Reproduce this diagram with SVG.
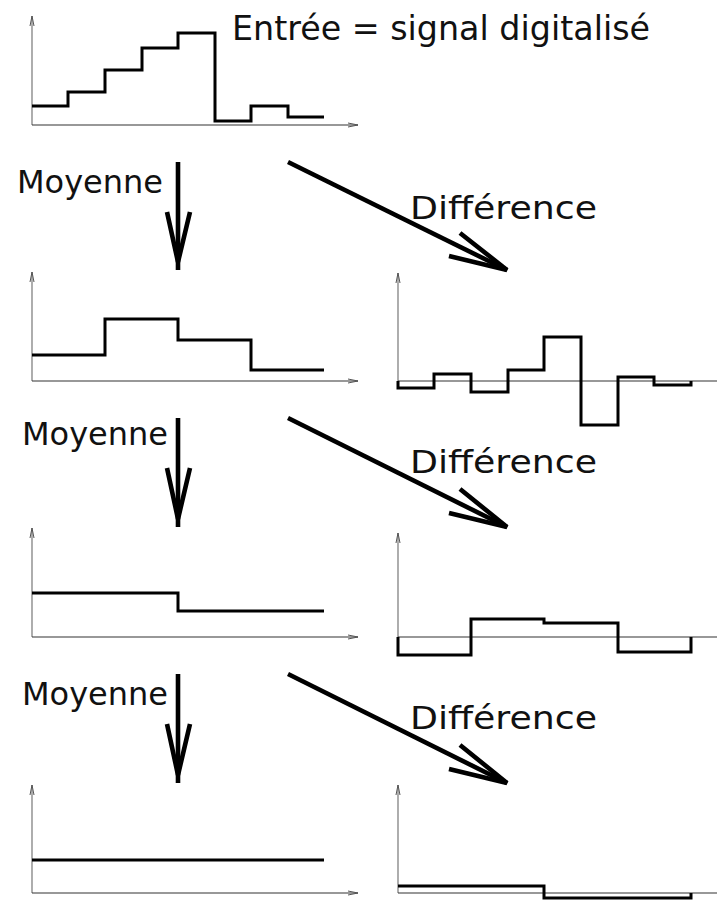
<svg xmlns="http://www.w3.org/2000/svg" width="717" height="900" viewBox="0 0 717 900">
<style>
.yax{stroke:#777;stroke-width:1.2;fill:none}
.xax{stroke:#333;stroke-width:1.2;fill:none}
.ah{stroke:#555;stroke-width:1;fill:none}
.sig{stroke:#000;stroke-width:3;fill:none;stroke-linejoin:miter}
.arr{stroke:#000;stroke-width:4.6;fill:none;stroke-linecap:butt}
.lbl{font-family:"DejaVu Sans","Liberation Sans",sans-serif;fill:#111}
</style>
<rect width="717" height="900" fill="#fff"/>
<g id="plot-input">
<line class="yax" x1="32" y1="125" x2="32" y2="16"/><path class="ah" d="M30,26 L32,16 L34,26"/>
<line class="xax" x1="32" y1="125" x2="358" y2="125"/><path class="ah" d="M348,123 L358,125 L348,127"/>
<path class="sig" d="M32,106 H68 V92 H105 V70 H142 V48 H178 V33 H215 V121 H251 V106 H288 V117 H324"/>
<text class="lbl" x="232" y="40" font-size="33" textLength="418" lengthAdjust="spacingAndGlyphs">Entrée = signal digitalisé</text>
</g>
<g id="plot-avg1">
<line class="yax" x1="32" y1="381" x2="32" y2="272"/><path class="ah" d="M30,282 L32,272 L34,282"/>
<line class="xax" x1="32" y1="381" x2="358" y2="381"/><path class="ah" d="M348,379 L358,381 L348,383"/>
<path class="sig" d="M32,355 H105 V319 H178 V340 H251 V370 H324"/>
</g>
<g id="plot-diff1">
<line class="yax" x1="398" y1="381" x2="398" y2="273"/><path class="ah" d="M396,283 L398,273 L400,283"/>
<line class="xax" x1="398" y1="381" x2="717" y2="381"/>
<path class="sig" d="M398,381 V388 H434 V374 H471 V392 H508 V370 H544 V337 H581 V425 H618 V377 H654 V385 H691 V381"/>
</g>
<g id="plot-avg2">
<line class="yax" x1="32" y1="637" x2="32" y2="528"/><path class="ah" d="M30,538 L32,528 L34,538"/>
<line class="xax" x1="32" y1="637" x2="358" y2="637"/><path class="ah" d="M348,635 L358,637 L348,639"/>
<path class="sig" d="M32,593 H178 V611 H324"/>
</g>
<g id="plot-diff2">
<line class="yax" x1="398" y1="637" x2="398" y2="533"/><path class="ah" d="M396,543 L398,533 L400,543"/>
<line class="xax" x1="398" y1="637" x2="717" y2="637"/>
<path class="sig" d="M398,637 V655 H471 V619 H544 V623 H618 V652 H691 V637"/>
</g>
<g id="plot-avg3">
<line class="yax" x1="32" y1="893" x2="32" y2="785"/><path class="ah" d="M30,795 L32,785 L34,795"/>
<line class="xax" x1="32" y1="893" x2="358" y2="893"/><path class="ah" d="M348,891 L358,893 L348,895"/>
<path class="sig" d="M32,860 H324"/>
</g>
<g id="plot-diff3">
<line class="yax" x1="398" y1="893" x2="398" y2="785"/><path class="ah" d="M396,795 L398,785 L400,795"/>
<line class="xax" x1="398" y1="893" x2="717" y2="893"/>
<path class="sig" d="M398,886 H544 V898 H691 V893"/>
</g>
<g id="labels">
<text class="lbl" x="17" y="193" font-size="32" textLength="146" lengthAdjust="spacingAndGlyphs">Moyenne</text>
<text class="lbl" x="410" y="219" font-size="32" textLength="187" lengthAdjust="spacingAndGlyphs">Différence</text>
<text class="lbl" x="22" y="445" font-size="32" textLength="146" lengthAdjust="spacingAndGlyphs">Moyenne</text>
<text class="lbl" x="410" y="473" font-size="32" textLength="187" lengthAdjust="spacingAndGlyphs">Différence</text>
<text class="lbl" x="22" y="705" font-size="32" textLength="146" lengthAdjust="spacingAndGlyphs">Moyenne</text>
<text class="lbl" x="410" y="729" font-size="32" textLength="187" lengthAdjust="spacingAndGlyphs">Différence</text>
</g>
<g id="connectors">
<line class="arr" x1="178" y1="162" x2="178" y2="270"/><path class="arr" d="M167,212 L178,262 L190,212"/>
<line class="arr" x1="288" y1="162" x2="507" y2="270"/><path class="arr" d="M460,233 L507,270 L449,256"/>
<line class="arr" x1="178" y1="418" x2="178" y2="527"/><path class="arr" d="M167,468 L178,519 L190,468"/>
<line class="arr" x1="288" y1="418" x2="507" y2="527"/><path class="arr" d="M460,489 L507,527 L449,513"/>
<line class="arr" x1="178" y1="674" x2="178" y2="783"/><path class="arr" d="M167,724 L178,775 L190,724"/>
<line class="arr" x1="288" y1="674" x2="507" y2="783"/><path class="arr" d="M460,745 L507,783 L449,769"/>
</g>
</svg>
